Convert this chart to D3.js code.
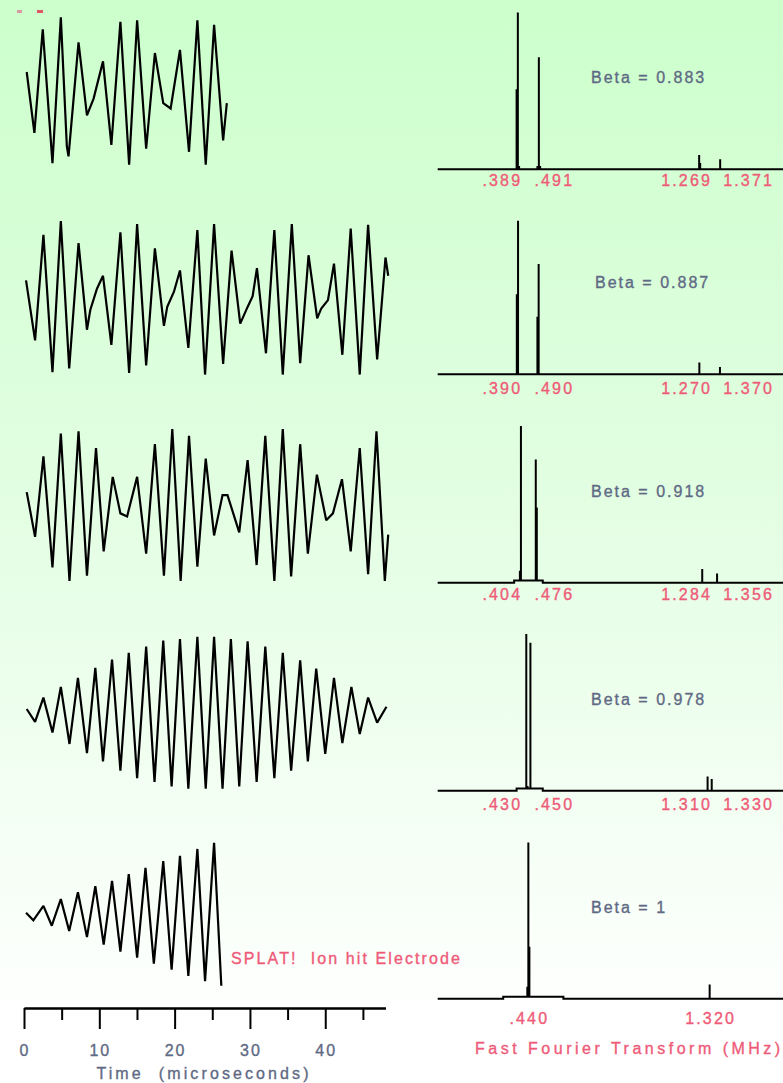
<!DOCTYPE html>
<html>
<head>
<meta charset="utf-8">
<script src="https://cdn.jsdelivr.net/npm/d3@7"></script>
<style>
  html, body { margin: 0; padding: 0; }
  body { width: 783px; height: 1083px; overflow: hidden; background: #fff; }
  text { font-family: "Liberation Sans", Arial, sans-serif; white-space: pre; }
</style>
</head>
<body>
<svg id="chart" width="783" height="1083"></svg>
<script>
// ---- Time-domain signals: [time (µs), relative signal], turning points of each trace ----
const wave1 = [[0.36,25],[1.38,-55],[2.49,81],[3.78,-95],[4.89,97],[5.69,-73],[5.91,-86],[7.24,64],[8.36,-32],[9.24,-10],[10.49,39],[11.6,-71],[12.8,91],[13.96,-97],[15.02,93],[16.22,-76],[17.38,50],[18.49,-16],[19.47,-23],[20.71,54],[21.91,-80],[23.02,93],[24.13,-97],[25.24,87],[26.44,-65],[26.93,-16]];
const wave2 = [[0.27,23],[1.47,-56],[2.58,83],[3.78,-98],[4.89,101],[6.0,-93],[7.24,72],[8.36,-42],[8.8,-16],[9.69,12],[10.49,29],[11.6,-62],[12.8,86],[13.96,-99],[15.02,97],[16.22,-89],[17.38,65],[18.58,-37],[19.02,-12],[19.91,8],[20.71,36],[21.82,-66],[23.02,89],[24.04,-101],[25.24,97],[26.44,-87],[27.56,62],[28.71,-34],[29.69,-12],[30.36,2],[30.93,39],[32.13,-73],[33.24,89],[34.36,-101],[35.56,97],[36.67,-86],[37.78,56],[38.93,-27],[39.47,-14],[40.36,-3],[41.16,45],[42.27,-75],[43.38,91],[44.58,-101],[45.69,96],[46.89,-81],[48.0,53],[48.36,29]];
const wave3 = [[0.36,17],[1.47,-42],[2.58,64],[3.78,-82],[4.89,94],[6.04,-100],[7.24,97],[8.36,-93],[9.56,75],[10.58,-61],[11.78,37],[12.8,-11],[13.69,-15],[15.02,37],[16.22,-64],[17.38,80],[18.58,-93],[19.69,100],[20.8,-100],[21.91,91],[23.02,-81],[24.13,61],[25.24,-40],[26.36,13],[27.02,13],[28.58,-36],[29.69,59],[30.89,-79],[32.04,91],[33.24,-100],[34.36,100],[35.47,-94],[36.67,80],[37.69,-64],[38.89,40],[40.13,-20],[41.02,-11],[42.22,34],[43.38,-61],[44.58,75],[45.69,-91],[46.8,97],[47.91,-100],[48.36,-39]];
const wave4 = [[0.36,5],[1.47,-12],[2.58,20],[3.78,-26],[4.89,34],[6.04,-41],[7.16,46],[8.36,-53],[9.47,59],[10.49,-64],[11.69,70],[12.8,-76],[13.91,79],[15.02,-86],[16.22,87],[17.33,-91],[18.49,95],[19.6,-97],[20.71,97],[21.82,-100],[23.02,100],[24.13,-100],[25.24,100],[26.36,-100],[27.47,97],[28.58,-97],[29.69,94],[30.89,-91],[32.04,87],[33.24,-86],[34.36,79],[35.47,-76],[36.67,69],[37.69,-64],[38.8,58],[40.0,-54],[41.16,46],[42.27,-40],[43.47,34],[44.58,-28],[45.69,20],[46.89,-13],[48.13,8]];
const wave5 = [[0.27,2],[1.24,-8],[2.58,11],[3.69,-15],[4.89,20],[6.0,-22],[7.16,29],[8.36,-30],[9.47,37],[10.58,-40],[11.69,44],[12.8,-49],[13.91,53],[15.02,-57],[16.13,61],[17.24,-65],[18.49,70],[19.6,-73],[20.71,77],[21.82,-81],[23.02,86],[24.04,-88],[25.24,94],[26.2,-94]];

// ---- Spectra: FFT lines [frequency (MHz), relative amplitude] ----
const spectrum1 = [[0.383,50],[0.389,98],[0.395,2],[0.484,2],[0.491,70],[0.497,2],[1.269,9],[1.274,4],[1.371,6.3]];
const spectrum2 = [[0.384,50],[0.390,96],[0.484,36],[0.490,69],[1.270,7.3],[1.370,4.6]];
const spectrum3 = [[0.399,7.5],[0.404,98],[0.476,77],[0.481,47],[1.284,8.5],[1.356,5.8]];
const spectrum4 = [[0.430,98],[0.436,3],[0.450,92.5],[1.310,8.8],[1.330,7.3]];
const spectrum5 = [[0.435,7.5],[0.440,97.7],[0.445,32.5],[1.320,8.8]];
// low broadband floor under the main lines: [from MHz, to MHz, amplitude]
const floor3 = [0.371, 0.510, 1.4];
const floor4 = [0.383, 0.510, 1.3];
const floor5 = [0.318, 0.610, 1.2];

// ---- Labels ----
const betaLabels = ["Beta = 0.883", "Beta = 0.887", "Beta = 0.918", "Beta = 0.978", "Beta = 1"];
const freqLabels1 = [".389", ".491", "1.269", "1.371"];
const freqLabels2 = [".390", ".490", "1.270", "1.370"];
const freqLabels3 = [".404", ".476", "1.284", "1.356"];
const freqLabels4 = [".430", ".450", "1.310", "1.330"];
const freqLabels5 = [".440", "1.320"];
const timeTicks = [0, 10, 20, 30, 40];
const timeMinorTicks = [5, 15, 25, 35, 45];
const timeTitle = "Time  (microseconds)";
const fftTitle = "Fast Fourier Transform (MHz)";
const impactNote = "SPLAT!  Ion hit Electrode";

// ---- Layout ----
const W = 783, H = 1083;
const waveCenters = [91, 297.8, 505, 712.8, 914.3];
const waveHalf = 76;
const fftBaselines = [169.3, 374.3, 582.7, 790.7, 998.7];
const fftHeight = 160;
const timeAxisY = 1008;

const PINK = "#ee5b78";
const GREY = "#5f6a84";
const TEXT_STROKE = 0.35;

const svg = d3.select("#chart");

// background wash
const defs = svg.append("defs");
const grad = defs.append("linearGradient").attr("id", "bg")
  .attr("x1", 0).attr("y1", 0).attr("x2", 0).attr("y2", 1);
grad.append("stop").attr("offset", "0%").attr("stop-color", "#ccffcc");
grad.append("stop").attr("offset", "45%").attr("stop-color", "#e2fee2");
grad.append("stop").attr("offset", "95%").attr("stop-color", "#ffffff");
grad.append("stop").attr("offset", "100%").attr("stop-color", "#ffffff");
svg.append("rect").attr("width", W).attr("height", H).attr("fill", "url(#bg)");

// small marks at the top-left corner
svg.append("rect").attr("x", 17).attr("y", 10).attr("width", 5).attr("height", 3).attr("fill", "#d89aa0");
svg.append("rect").attr("x", 37).attr("y", 10).attr("width", 6).attr("height", 3).attr("fill", "#e05868");

// text helper: slightly heavier strokes, wide tracking
function label(sel, color, spacing) {
  return sel.attr("font-size", 16)
    .attr("letter-spacing", spacing)
    .attr("fill", color)
    .attr("stroke", color)
    .attr("stroke-width", TEXT_STROKE);
}

// ---- Scales ----
const xTime = d3.scaleLinear().domain([0, 48]).range([24, 385.5]);
const xFreq = d3.scaleLinear().domain([0, 1.676]).range([437.7, 783]);

// ---- Time traces ----
const waves = [wave1, wave2, wave3, wave4, wave5];
waves.forEach((w, i) => {
  const y = d3.scaleLinear().domain([-100, 100]).range([waveCenters[i] + waveHalf, waveCenters[i] - waveHalf]);
  const line = d3.line().x(d => xTime(d[0])).y(d => y(d[1]));
  svg.append("path").datum(w)
    .attr("d", line)
    .attr("fill", "none")
    .attr("stroke", "#000")
    .attr("stroke-width", 2.2)
    .attr("stroke-linejoin", "miter")
    .attr("stroke-miterlimit", 2);
});

// ---- Time axis ----
const axisG = svg.append("g").attr("transform", `translate(0,${timeAxisY})`);
axisG.append("g").call(d3.axisBottom(xTime).tickValues(timeTicks).tickSize(21).tickSizeOuter(0).tickFormat(""));
axisG.append("g").call(d3.axisBottom(xTime).tickValues(timeMinorTicks).tickSize(12).tickSizeOuter(0).tickFormat(""));
axisG.selectAll("path.domain").attr("stroke", "#000").attr("stroke-width", 2);
axisG.selectAll(".tick line").attr("stroke", "#000").attr("stroke-width", 2);

label(svg.append("g").selectAll("text").data(timeTicks).join("text")
  .attr("x", d => xTime(d) + 1)
  .attr("y", 1056)
  .attr("text-anchor", "middle"), GREY, 2)
  .text(d => d);

label(svg.append("text")
  .attr("x", 204).attr("y", 1079)
  .attr("text-anchor", "middle"), GREY, 3.1)
  .text(timeTitle);

label(svg.append("text")
  .attr("x", 231).attr("y", 964), PINK, 2.1)
  .text(impactNote);

// ---- Spectra ----
const spectra = [spectrum1, spectrum2, spectrum3, spectrum4, spectrum5];
const floors = [null, null, floor3, floor4, floor5];
const freqLabels = [freqLabels1, freqLabels2, freqLabels3, freqLabels4, freqLabels5];
const labelBelow = [17, 20, 17, 19, 25];

spectra.forEach((spec, i) => {
  const base = fftBaselines[i];
  const y = d3.scaleLinear().domain([0, 100]).range([base, base - fftHeight]);
  const fl = floors[i];
  const level = f => (fl && f >= fl[0] && f <= fl[1]) ? fl[2] : 0;

  // polyline: floor, then each line rising vertically from the floor and back
  const events = [];
  if (fl) {
    events.push({ f: fl[0], pts: [[fl[0], 0], [fl[0], fl[2]]] });
    events.push({ f: fl[1], pts: [[fl[1], fl[2]], [fl[1], 0]] });
  }
  spec.forEach(([f, a]) => {
    const b = level(f);
    events.push({ f, pts: [[f, b], [f, a], [f, b]] });
  });
  events.sort((a, b) => a.f - b.f);
  const pts = [[0, 0]];
  events.forEach(e => pts.push(...e.pts));
  pts.push([xFreq.domain()[1], 0]);

  const line = d3.line().x(d => xFreq(d[0])).y(d => y(d[1]));
  svg.append("path").datum(pts)
    .attr("d", line)
    .attr("fill", "none")
    .attr("stroke", "#000")
    .attr("stroke-width", 2)
    .attr("stroke-linejoin", "miter")
    .attr("stroke-miterlimit", 1.5);

  // Beta label
  label(svg.append("text")
    .attr("x", i === 1 ? 595 : 591)
    .attr("y", base - 86), GREY, 2)
    .text(betaLabels[i]);

  // frequency labels
  const labs = freqLabels[i];
  const vals = labs.map(s => +s);
  let xs;
  if (labs.length === 4) {
    const m1 = xFreq((vals[0] + vals[1]) / 2);
    const m2 = xFreq((vals[2] + vals[3]) / 2);
    xs = [m1 - 26, m1 + 26, m2 - 23, m2 + 39];
  } else {
    xs = vals.map(v => xFreq(v) + 1);
  }
  label(svg.append("g").selectAll("text").data(labs).join("text")
    .attr("x", (d, j) => xs[j])
    .attr("y", base + labelBelow[i])
    .attr("text-anchor", "middle"), PINK, 2.2)
    .text(d => d);
});

label(svg.append("text")
  .attr("x", 475).attr("y", 1054), PINK, 3.5)
  .text(fftTitle);
</script>
</body>
</html>
